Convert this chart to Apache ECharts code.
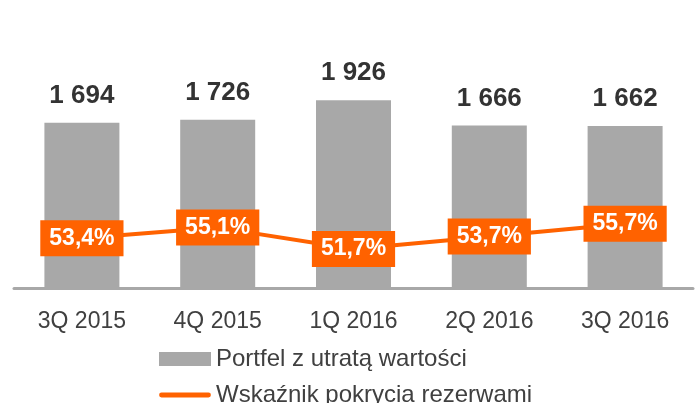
<!DOCTYPE html>
<html>
<head>
<meta charset="utf-8">
<style>
  html, body { margin: 0; padding: 0; background: #fff; }
  #chart { width: 697px; height: 403px; }
</style>
<script src="https://cdn.jsdelivr.net/npm/echarts@6/dist/echarts.min.js"></script>
</head>
<body>
<div id="chart"></div>
<script>
// Quarterly impaired portfolio (PLN m) and provision coverage ratio (%)
const categories = ['3Q 2015', '4Q 2015', '1Q 2016', '2Q 2016', '3Q 2016'];
const portfolioValues = [1694, 1726, 1926, 1666, 1662];
const coverageValues = [53.4, 55.1, 51.7, 53.7, 55.7];
const seriesNames = ['Portfel z utratą wartości', 'Wskaźnik pokrycia rezerwami'];

const FONT = '"Liberation Sans", Arial, sans-serif';
const GREY = '#A8A8A8';
const ORANGE = '#FF6200';

function spaceThousands(v) {
  return String(v).replace(/\B(?=(\d{3})+(?!\d))/g, ' ');
}
function percentComma(v) {
  return v.toFixed(1).replace('.', ',') + '%';
}

// legend key for the ratio: a thick stroke with rounded ends, centred in a 52x14 box
const lineKey = 'path://M0,0 M52,14 M2.5,4.6 L49.5,4.6 A2.4,2.4 0 0 1 49.5,9.4 L2.5,9.4 A2.4,2.4 0 0 1 2.5,4.6 Z';

const chart = echarts.init(document.getElementById('chart'), null, { renderer: 'canvas' });

chart.setOption({
  animation: false,
  textStyle: { fontFamily: FONT },
  grid: { left: 14, right: 4, top: 93, bottom: 115 },
  legend: {
    orient: 'vertical',
    left: 154,
    top: 342,
    height: 90,
    itemWidth: 52,
    itemHeight: 14,
    itemGap: 12,
    textStyle: { fontFamily: FONT, fontSize: 24, color: '#404040' },
    data: [
      { name: seriesNames[0], icon: 'rect' },
      { name: seriesNames[1], icon: lineKey }
    ]
  },
  xAxis: {
    type: 'category',
    data: categories,
    axisTick: { show: false },
    axisLine: { lineStyle: { color: GREY, width: 3 } },
    axisLabel: { color: '#404040', fontSize: 23, fontFamily: FONT, margin: 22 }
  },
  yAxis: [
    { type: 'value', min: 0, max: 2000, show: false, splitLine: { show: false } },
    { type: 'value', min: 45.5, max: 76.5, show: false, splitLine: { show: false } }
  ],
  series: [
    {
      name: seriesNames[0],
      type: 'bar',
      data: portfolioValues,
      barWidth: 75,
      itemStyle: { color: GREY },
      label: {
        show: true,
        position: 'top',
        distance: 14,
        color: '#333333',
        fontSize: 26,
        fontWeight: 'bold',
        fontFamily: FONT,
        formatter: p => spaceThousands(p.value)
      }
    },
    {
      name: seriesNames[1],
      type: 'line',
      yAxisIndex: 1,
      data: coverageValues,
      symbol: 'none',
      lineStyle: { color: ORANGE, width: 4, cap: 'round' },
      itemStyle: { color: ORANGE },
      z: 3
    },
    {
      // value boxes sitting on the coverage line
      name: 'coverageLabels',
      type: 'scatter',
      yAxisIndex: 1,
      data: coverageValues,
      symbolSize: 1,
      itemStyle: { color: 'rgba(0,0,0,0)', opacity: 1 },
      z: 4,
      label: {
        show: true,
        position: 'inside',
        color: '#ffffff',
        fontSize: 23,
        fontWeight: 'bold',
        fontFamily: FONT,
        lineHeight: 23,
        backgroundColor: ORANGE,
        padding: [7, 9, 6, 9],
        formatter: p => percentComma(p.value)
      }
    }
  ]
});
</script>
</body>
</html>
